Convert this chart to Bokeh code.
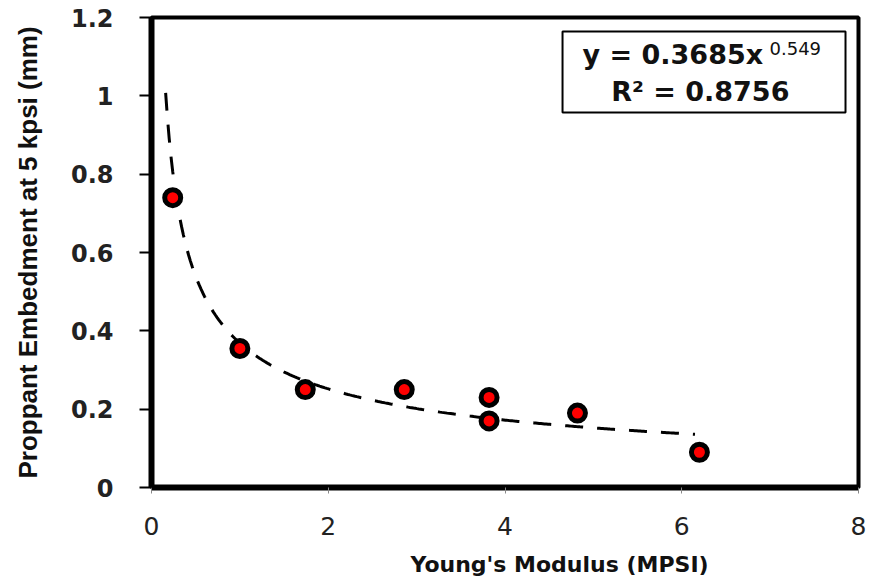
import numpy as np
from bokeh.plotting import figure
from bokeh.models import Range1d, FixedTicker, BoxAnnotation, Label, Title
from bokeh.embed import file_html
from bokeh.resources import INLINE

# ---- data ----
youngs_modulus = [0.24, 1.0, 1.74, 2.86, 3.82, 3.82, 4.82, 6.2]
embedment = [0.74, 0.355, 0.25, 0.25, 0.23, 0.17, 0.19, 0.09]

# power-law trend line shown in the chart: y = a * x^b
fit_a = 0.3685
fit_b = -0.549
fit_x_start, fit_x_end = 0.16, 6.15

x_ticks = [0, 2, 4, 6, 8]
y_ticks = [0, 0.2, 0.4, 0.6, 0.8, 1.0, 1.2]
y_tick_labels = ["0", "0.2", "0.4", "0.6", "0.8", "1", "1.2"]

x_title = "Young's Modulus (MPSI)"
y_title = "Proppant Embedment at 5 kpsi (mm)"
eq_text = "y = 0.3685x"
eq_exp = "0.549"
r2_text = "R\u00b2 = 0.8756"

fit_x = np.linspace(fit_x_start, fit_x_end, 300)
fit_y = fit_a * fit_x ** fit_b

p = figure(width=873, height=588, x_range=Range1d(0, 8), y_range=Range1d(0, 1.2),
           output_backend="svg", toolbar_location=None,
           min_border_left=151, min_border_right=15, min_border_top=17, min_border_bottom=101)
p.background_fill_color = "white"
p.border_fill_color = "white"
p.grid.visible = False
p.outline_line_color = "black"
p.outline_line_width = 4

# axes
p.xaxis.ticker = FixedTicker(ticks=x_ticks)
p.yaxis.ticker = FixedTicker(ticks=y_ticks)
p.yaxis.major_label_overrides = {t: l for t, l in zip(y_ticks, y_tick_labels)}
for ax in (p.xaxis, p.yaxis):
    ax.axis_line_color = "black"
    ax.axis_line_width = 6
    ax.minor_tick_line_color = None
    ax.major_tick_in = 0

p.yaxis.major_tick_out = 12
p.yaxis.major_tick_line_width = 2
p.yaxis.major_tick_line_color = "black"
p.yaxis.major_label_standoff = 26
p.yaxis.major_label_text_font = "DejaVu Sans"
p.yaxis.major_label_text_font_style = "bold"
p.yaxis.major_label_text_font_size = "24px"
p.yaxis.major_label_text_color = "#222222"
p.yaxis.axis_label = y_title
p.yaxis.axis_label_text_font = "Liberation Sans"
p.yaxis.axis_label_text_font_style = "bold"
p.yaxis.axis_label_text_font_size = "26px"
p.yaxis.axis_label_text_color = "#111111"
p.yaxis.axis_label_standoff = 25

p.xaxis.major_tick_out = 6
p.xaxis.major_tick_line_width = 1
p.xaxis.major_tick_line_color = "#888888"
p.xaxis.major_label_standoff = 23
p.xaxis.major_label_text_font = "DejaVu Sans"
p.xaxis.major_label_text_font_size = "25px"
p.xaxis.major_label_text_color = "#222222"

# x-axis title, placed off-centre as in the reference
p.add_layout(Title(text=x_title, align="left", offset=259,
                   text_font="DejaVu Sans", text_font_style="bold",
                   text_font_size="22px", text_color="#111111", standoff=24), "below")

# trend line
p.line(fit_x, fit_y, line_color="black", line_width=3, line_dash="18 14")

# data points
p.scatter(youngs_modulus, embedment, marker="circle", size=16,
          fill_color="#ff0000", line_color="black", line_width=5)

# equation box
p.add_layout(BoxAnnotation(left=4.651, right=7.853, bottom=0.9574, top=1.1642,
                           fill_color="white", fill_alpha=1.0,
                           line_color="black", line_alpha=1.0, line_width=2))
p.add_layout(Label(x=4.877, y=1.1043, text=eq_text, text_align="left",
                   text_baseline="middle", text_font="DejaVu Sans",
                   text_font_style="bold", text_font_size="27px", text_color="#111111"))
p.add_layout(Label(x=6.993, y=1.1196, text=eq_exp, text_align="left",
                   text_baseline="middle", text_font="DejaVu Sans",
                   text_font_size="18px", text_color="#111111"))
p.add_layout(Label(x=6.21, y=1.0123, text=r2_text, text_align="center",
                   text_baseline="middle", text_font="DejaVu Sans",
                   text_font_style="bold", text_font_size="27px", text_color="#111111"))

open("out.html", "w").write(file_html(p, INLINE))
